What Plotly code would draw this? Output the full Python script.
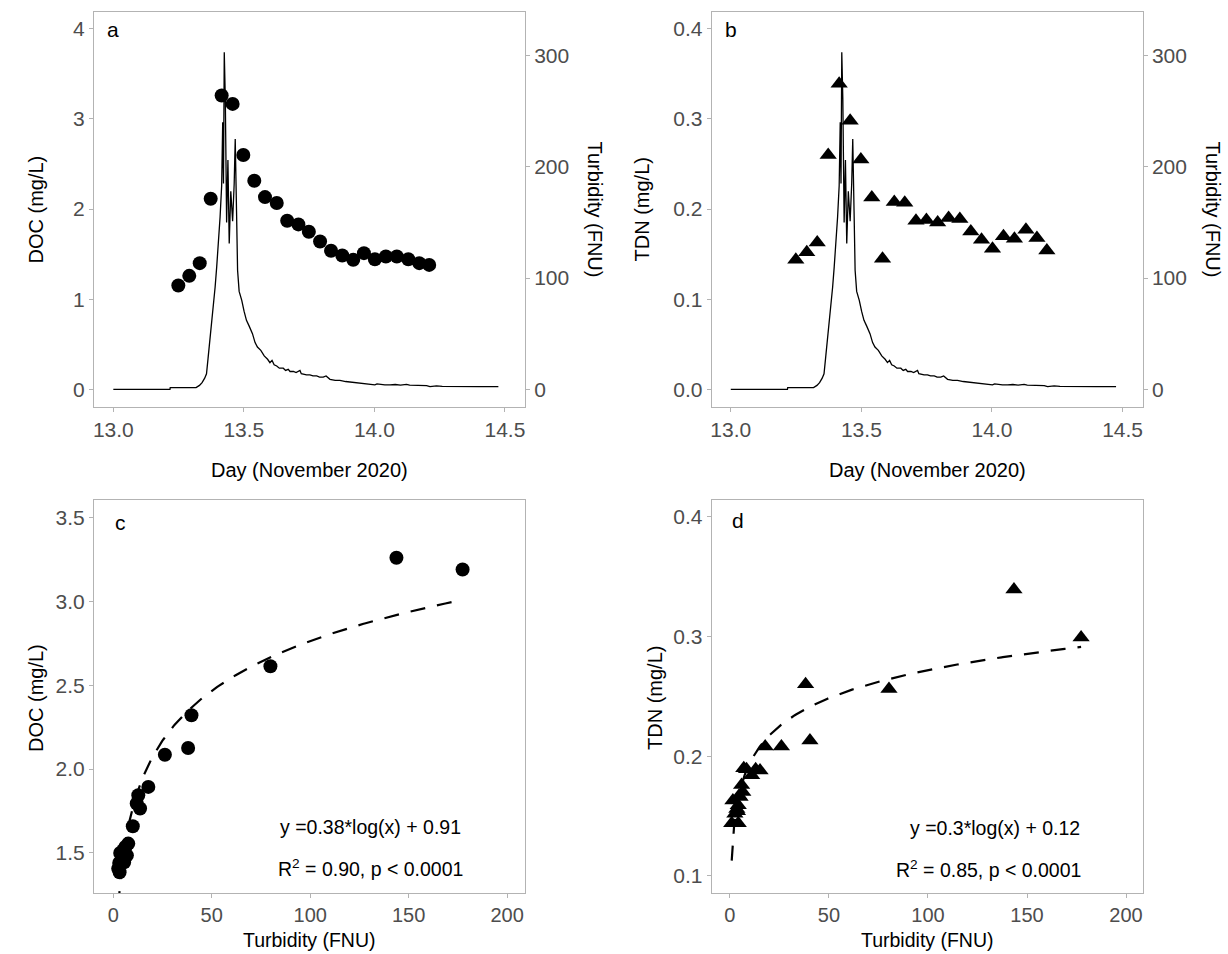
import numpy as np
import plotly.graph_objects as go

# turbidity record (day of November 2020, FNU)
turb_day = [13.000, 13.217, 13.218, 13.317, 13.330, 13.340, 13.350, 13.357, 13.363,
            13.370, 13.376, 13.383, 13.390, 13.396, 13.403, 13.409, 13.415, 13.419,
            13.422, 13.425, 13.429, 13.431, 13.434, 13.439, 13.444, 13.450, 13.457,
            13.463, 13.467, 13.472, 13.476, 13.482, 13.492, 13.501, 13.510, 13.520,
            13.533, 13.543, 13.552, 13.565, 13.578, 13.591, 13.600, 13.608, 13.616,
            13.626, 13.636, 13.651, 13.660, 13.670, 13.677, 13.690, 13.700, 13.715,
            13.720, 13.740, 13.753, 13.765, 13.779, 13.790, 13.804, 13.815, 13.830,
            13.850, 13.868, 13.890, 13.906, 13.925, 13.945, 13.960, 13.970, 13.985,
            14.002, 14.010, 14.021, 14.040, 14.060, 14.080, 14.100, 14.123, 14.135,
            14.149, 14.170, 14.187, 14.200, 14.213, 14.225, 14.238, 14.260, 14.315,
            14.400, 14.475]
turb_val = [0, 0, 1.5, 1.5, 3.5, 6, 10, 14, 28,
            44, 58, 74, 92, 110, 132, 155, 183, 240,
            185, 303, 261, 206, 150, 206, 131, 178, 151,
            185, 225, 160, 107, 88, 80, 70, 62, 57,
            50, 42, 38, 35, 30, 27, 24, 26, 22,
            21, 19, 19, 17, 18, 16, 16, 15, 17,
            14, 13, 13, 12, 12, 11, 11, 12, 9,
            8, 8, 7, 6.6, 6.3, 6, 5.5, 5.4, 4.5,
            4.0, 4.8, 4.3, 3.9, 3.9, 4.3, 3.8, 4.5, 3.7,
            3.6, 3.6, 3.5, 3.3, 2.4, 3.0, 3.0, 2.7, 2.4,
            2.4, 2.4]

# hourly samples
sample_day = [13.249, 13.291, 13.331, 13.373, 13.415, 13.457, 13.498, 13.540,
              13.581, 13.626, 13.666, 13.709, 13.749, 13.792, 13.834, 13.877,
              13.919, 13.960, 14.002, 14.044, 14.086, 14.130, 14.172, 14.210]
doc = [1.152, 1.259, 1.40, 2.115, 3.26, 3.167, 2.60, 2.315,
       2.133, 2.067, 1.87, 1.83, 1.748, 1.64, 1.537, 1.485,
       1.437, 1.511, 1.444, 1.474, 1.474, 1.444, 1.40, 1.381]
tdn = [0.1437, 0.152, 0.163, 0.260, 0.339, 0.298, 0.255, 0.213,
       0.145, 0.208, 0.207, 0.187, 0.188, 0.185, 0.190, 0.189,
       0.175, 0.166, 0.156, 0.170, 0.167, 0.177, 0.168, 0.154]

# DOC vs turbidity
c_turb = [177.4, 143.8, 79.8, 39.7, 38.0, 26.2, 17.8, 12.7, 11.9, 13.6, 9.9,
          7.6, 6.1, 5.1, 3.5, 6.9, 4.5, 5.5, 3.0, 2.5, 3.2]
c_doc = [3.19, 3.26, 2.613, 2.321, 2.126, 2.086, 1.894, 1.844, 1.795, 1.765, 1.659,
         1.556, 1.536, 1.516, 1.50, 1.486, 1.47, 1.445, 1.44, 1.407, 1.385]

# TDN vs turbidity
d_turb = [177.3, 143.4, 80.3, 38.2, 40.4, 26.0, 17.8, 15.2, 13.0, 11.0, 8.4, 7.0,
          5.9, 6.5, 5.1, 4.6, 4.2, 3.5, 2.5, 3.8, 0.9, 4.2, 1.5]
d_tdn = [0.299, 0.339, 0.256, 0.260, 0.213, 0.208, 0.208, 0.188, 0.189, 0.184, 0.189, 0.190,
         0.176, 0.170, 0.166, 0.167, 0.159, 0.156, 0.152, 0.154, 0.144, 0.144, 0.163]

W, H = 1228, 954
FONT = "Liberation Sans, Arial, sans-serif"
GREY = "#b3b3b3"
TICKC = "#4d4d4d"


def px(x):
    return x / W


def py(y):
    return 1 - y / H


def log_fit(x, y):
    a, b = np.polyfit(np.log(x), y, 1)
    xs = np.linspace(min(x), max(x), 300)
    return xs, a * np.log(xs) + b


fig = go.Figure()

# panel a
fig.add_trace(go.Scatter(x=turb_day, y=turb_val, mode="lines", xaxis="x", yaxis="y2",
                         line=dict(color="black", width=1.3)))
fig.add_trace(go.Scatter(x=sample_day, y=doc, mode="markers", xaxis="x", yaxis="y",
                         marker=dict(color="black", size=14, symbol="circle")))
# panel b
fig.add_trace(go.Scatter(x=turb_day, y=turb_val, mode="lines", xaxis="x2", yaxis="y4",
                         line=dict(color="black", width=1.3)))
fig.add_trace(go.Scatter(x=sample_day, y=tdn, mode="markers", xaxis="x2", yaxis="y3",
                         marker=dict(color="black", size=15, symbol="triangle-up")))
# panel c
fx, fy = log_fit(c_turb, c_doc)
fig.add_trace(go.Scatter(x=fx, y=fy, mode="lines", xaxis="x3", yaxis="y5",
                         line=dict(color="black", width=2.2, dash="15px,12px")))
fig.add_trace(go.Scatter(x=c_turb, y=c_doc, mode="markers", xaxis="x3", yaxis="y5",
                         marker=dict(color="black", size=14, symbol="circle")))
# panel d
fx, fy = log_fit(d_turb, d_tdn)
fig.add_trace(go.Scatter(x=fx, y=fy, mode="lines", xaxis="x4", yaxis="y6",
                         line=dict(color="black", width=2.2, dash="15px,12px")))
fig.add_trace(go.Scatter(x=d_turb, y=d_tdn, mode="markers", xaxis="x4", yaxis="y6",
                         marker=dict(color="black", size=15, symbol="triangle-up")))

axis_style = dict(showline=True, linecolor=GREY, linewidth=1, mirror=True,
                  ticks="outside", ticklen=4, tickwidth=1, tickcolor=GREY,
                  showgrid=False, zeroline=False,
                  tickfont=dict(family=FONT, size=21, color=TICKC))
bottom_style = {**axis_style, "tickfont": dict(family=FONT, size=20, color=TICKC)}

dom_left = [px(94), px(525)]
dom_right = [px(711.7), px(1142.7)]
dom_top = [py(407), py(12)]
dom_bot = [py(893), py(499.5)]

day_ticks = dict(tickvals=[13, 13.5, 14, 14.5], ticktext=["13.0", "13.5", "14.0", "14.5"])

fig.update_layout(
    width=W, height=H,
    margin=dict(l=0, r=0, t=0, b=0),
    paper_bgcolor="white", plot_bgcolor="white",
    showlegend=False,
    xaxis=dict(domain=dom_left, anchor="y", range=[12.926, 14.577], **day_ticks, **axis_style),
    yaxis=dict(domain=dom_top, anchor="x", range=[-0.196, 4.187],
               tickvals=[0, 1, 2, 3, 4], **axis_style),
    yaxis2=dict(overlaying="y", anchor="x", side="right", range=[-15.9, 339.1],
                tickvals=[0, 100, 200, 300], **{**axis_style, "mirror": False}),
    xaxis2=dict(domain=dom_right, anchor="y3", range=[12.927, 14.577], **day_ticks, **axis_style),
    yaxis3=dict(domain=dom_top, anchor="x2", range=[-0.0196, 0.4187],
                tickvals=[0, 0.1, 0.2, 0.3, 0.4], ticktext=["0.0", "0.1", "0.2", "0.3", "0.4"],
                **axis_style),
    yaxis4=dict(overlaying="y3", anchor="x2", side="right", range=[-15.9, 339.1],
                tickvals=[0, 100, 200, 300], **{**axis_style, "mirror": False}),
    xaxis3=dict(domain=dom_left, anchor="y5", range=[-9.8, 209.1],
                tickvals=[0, 50, 100, 150, 200], **bottom_style),
    yaxis5=dict(domain=dom_bot, anchor="x3", range=[1.2615, 3.607],
                tickvals=[1.5, 2.0, 2.5, 3.0, 3.5], ticktext=["1.5", "2.0", "2.5", "3.0", "3.5"],
                **axis_style),
    xaxis4=dict(domain=dom_right, anchor="y6", range=[-9.2, 208.4],
                tickvals=[0, 50, 100, 150, 200], **bottom_style),
    yaxis6=dict(domain=dom_bot, anchor="x4", range=[0.0858, 0.4142],
                tickvals=[0.1, 0.2, 0.3, 0.4], **axis_style),
)


def label(text, x, y, angle=0, size=20, anchor="center"):
    fig.add_annotation(text=text, x=px(x), y=py(y), xref="paper", yref="paper",
                       showarrow=False, textangle=angle, xanchor=anchor, yanchor="middle",
                       font=dict(family=FONT, size=size, color="black"))


# axis titles
label("DOC (mg/L)", 36, 209.5, -90)
label("Turbidity (FNU)", 594, 209.5, 90)
label("TDN (mg/L)", 642, 209.5, -90)
label("Turbidity (FNU)", 1212, 209.5, 90)
label("Day (November 2020)", 309.5, 470)
label("Day (November 2020)", 927, 470)
label("DOC (mg/L)", 36, 698, -90)
label("TDN (mg/L)", 655, 698, -90)
label("Turbidity (FNU)", 309.5, 940, size=19.5)
label("Turbidity (FNU)", 927, 940, size=19.5)

# panel letters
label("a", 113, 30, size=21)
label("b", 731, 30, size=21)
label("c", 120, 522, size=21)
label("d", 738, 520, size=21)

# regression text
label("y =0.38*log(x) + 0.91", 463, 827, size=19.5, anchor="right")
label("R<sup>2</sup> = 0.90, p < 0.0001", 465, 868, size=19.5, anchor="right")
label("y =0.3*log(x) + 0.12", 1082, 828, size=19.5, anchor="right")
label("R<sup>2</sup> = 0.85, p < 0.0001", 1083, 869, size=19.5, anchor="right")

fig.write_html("out.html", config={"displayModeBar": False},
               post_script="document.body.style.margin='0';document.body.style.overflow='hidden';")
